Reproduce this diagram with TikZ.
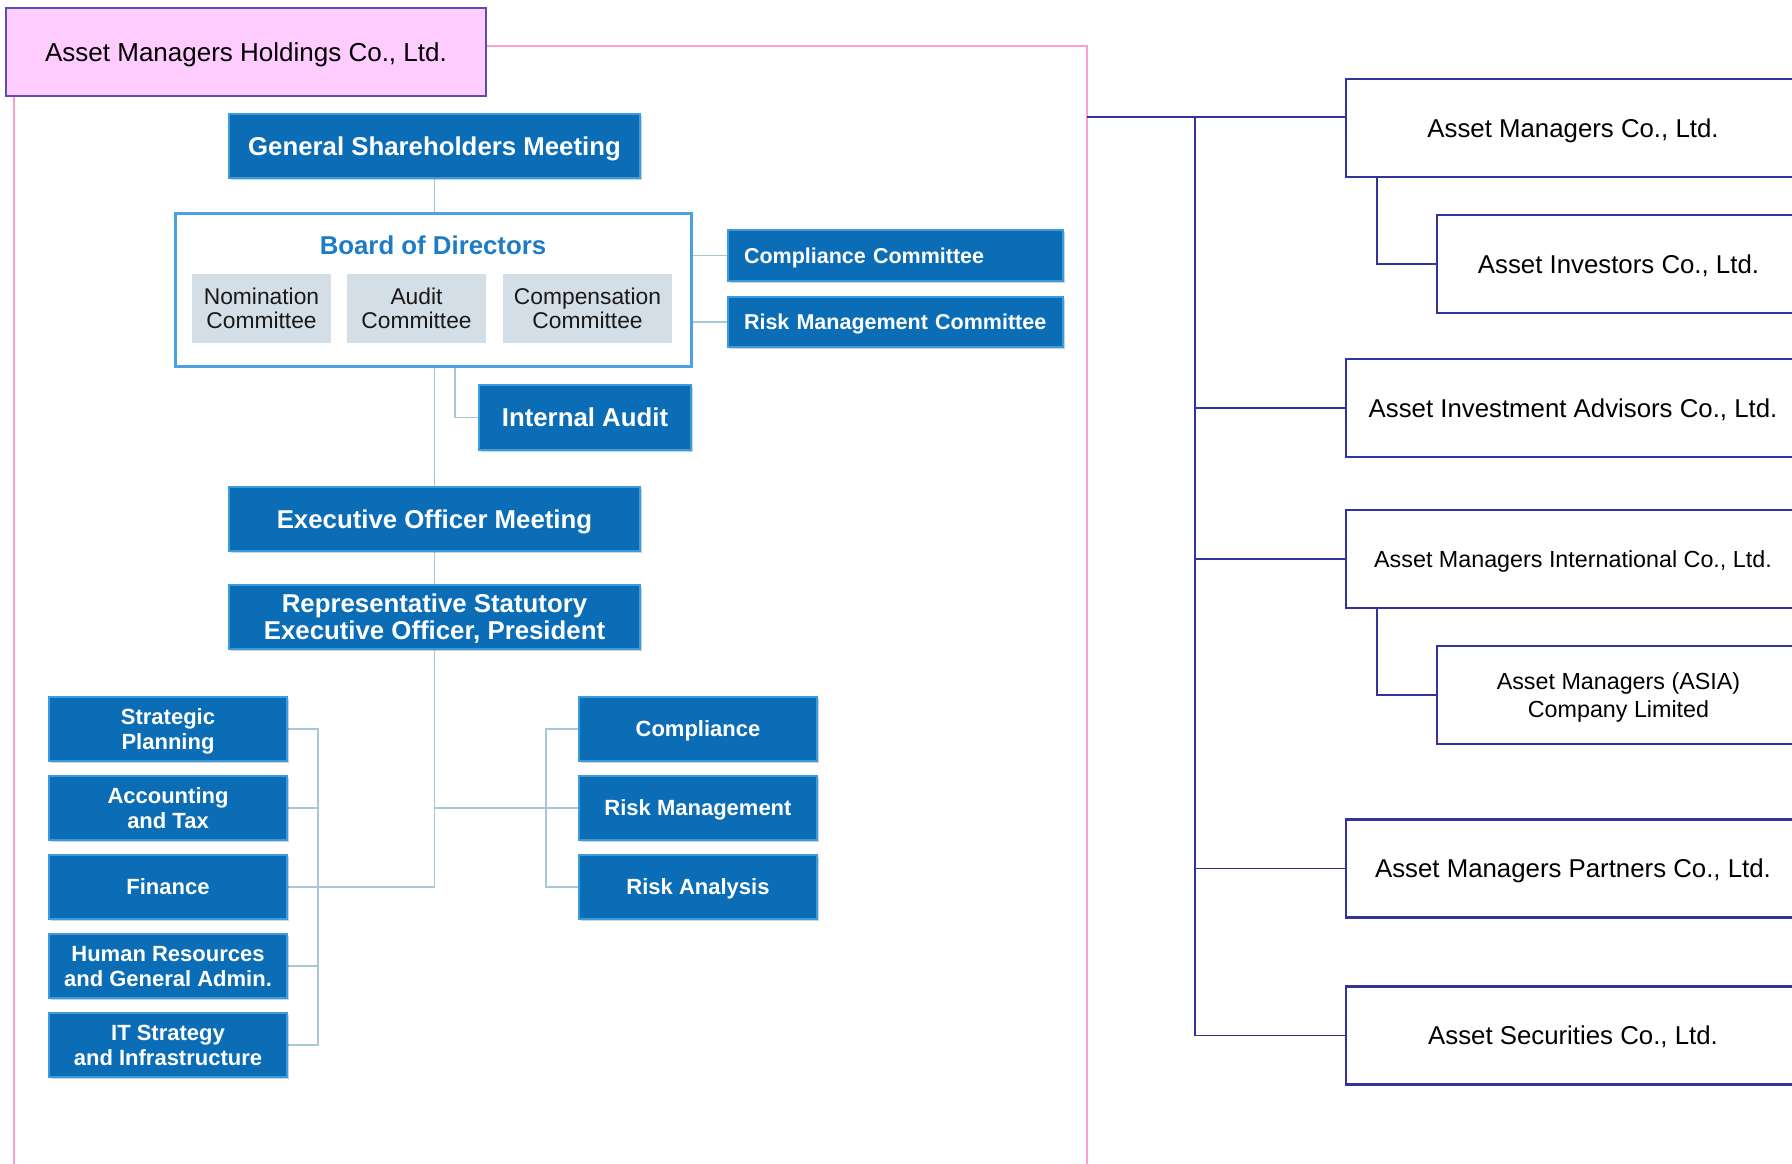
\documentclass[tikz,border=0pt]{standalone}
\usepackage{fontspec}
\setmainfont{Liberation Sans}
\usetikzlibrary{calc,shadows,backgrounds}

\definecolor{deptblue}{HTML}{0B6DB6}
\definecolor{deptedge}{HTML}{3C9BDC}
\definecolor{boardedge}{HTML}{4BA2E2}
\definecolor{boardtitle}{HTML}{1E7CC6}
\definecolor{cmtfill}{HTML}{D3DEE7}
\definecolor{linkgrey}{HTML}{A8C8D6}
\definecolor{subnavy}{HTML}{33339A}
\definecolor{framepink}{HTML}{FF9FD0}
\definecolor{holdpink}{HTML}{FFCCFF}
\definecolor{holdedge}{HTML}{5A4DB5}

\tikzset{
  dept/.style={draw=deptedge, line width=2.4pt, fill=deptblue, text=white,
    font=\bfseries\fontsize{25.8}{27}\selectfont, align=center, inner sep=0pt, text depth=0pt,
    drop shadow={shadow xshift=2pt, shadow yshift=-2pt, fill=black, opacity=.18}},
  unit/.style={dept, font=\bfseries\fontsize{22}{25}\selectfont,
    minimum width=238pt, minimum height=64pt},
  cmt/.style={fill=cmtfill, text=black!90, font=\fontsize{22.8}{24}\selectfont,
    align=center, inner sep=0pt, text depth=0pt, minimum height=69pt},
  link/.style={draw=linkgrey, line width=1.6pt},
  sub/.style={draw=subnavy, line width=2.8pt, fill=white, align=center, inner sep=0pt,
    text depth=0pt, font=\fontsize{25.8}{28}\selectfont, minimum height=98pt},
  subline/.style={draw=subnavy, line width=1.5pt},
  frame/.style={draw=framepink, line width=1.3pt}
}

\begin{document}
\begin{tikzpicture}[x=1pt,y=-1pt]
  \useasboundingbox (0,0) rectangle (1792,1164);

  % holding company
  \node[draw=holdedge, line width=2pt, fill=holdpink, minimum width=480pt, minimum height=88pt,
    text depth=0pt, font=\fontsize{26}{30}\selectfont] (hold) at (246,52) {Asset Managers Holdings Co., Ltd.};
  \coordinate (frameTop) at (1087,46);
  \coordinate (frameR) at (1087,1164);
  \coordinate (frameL) at (14,1164);

  % governance column
  \node[dept, minimum width=411pt, minimum height=64pt] (gsm) at (434.5,146) {General Shareholders Meeting};
  \node[draw=boardedge, line width=3pt, fill=white, minimum width=516pt, minimum height=153pt,
    drop shadow={shadow xshift=2pt, shadow yshift=-2pt, fill=black, opacity=.15}] (board) at (433,289.5) {};
  \node[text=boardtitle, text depth=0pt, font=\bfseries\fontsize{25.8}{28}\selectfont] (boardttl) at (433,245) {Board of Directors};
  \node[cmt, minimum width=139pt] (nom) at (261.5,308.5) {Nomination\\Committee};
  \node[cmt, minimum width=139pt] (aud) at (416.5,308.5) {Audit\\Committee};
  \node[cmt, minimum width=169pt] (cmp) at (587.5,308.5) {Compensation\\Committee};

  \node[dept, font=\bfseries\fontsize{21.5}{24}\selectfont, align=left, inner xsep=16pt,
    text width=303pt, minimum height=51pt] (ccom) at (895.5,255.5) {Compliance Committee};
  \node[dept, font=\bfseries\fontsize{21.5}{24}\selectfont, align=left, inner xsep=16pt,
    text width=303pt, minimum height=50pt] (rmc) at (895.5,322) {Risk Management Committee};

  \node[dept, minimum width=212pt, minimum height=65pt] (ia) at (585,417.5) {Internal Audit};
  \node[dept, minimum width=411pt, minimum height=64pt] (eom) at (434.5,519) {Executive Officer Meeting};
  \node[dept, minimum width=411pt, minimum height=64pt] (rep) at (434.5,617)
    {Representative Statutory\\Executive Officer, President};

  % departments
  \foreach \nm/\yy/\txt in {sp/729/{Strategic\\Planning}, acct/808/{Accounting\\and Tax},
      fin/887/Finance, hr/966/{Human Resources\\and General Admin.}, its/1045/{IT Strategy\\and Infrastructure}}
    \node[unit] (\nm) at (168,\yy) {\txt};
  \foreach \nm/\yy/\txt in {cpl/729/Compliance, rmg/808/Risk Management, rsa/887/Risk Analysis}
    \node[unit] (\nm) at (698,\yy) {\txt};

  \coordinate (lbus) at (318,0);
  \coordinate (rbus) at (546,0);
  \coordinate (iatap) at (455,0);

  \begin{scope}[on background layer]
    \draw[link] (gsm.south) -- (gsm.south |- fin.east) -- (fin.east);
    \draw[link] (gsm.south |- rmg.west) -- (rmg.west);
    \draw[link] (board.east |- ccom.west) -- (ccom.west);
    \draw[link] (board.east |- rmc.west) -- (rmc.west);
    \draw[link] (aud.south -| iatap) |- (ia.west);
    \draw[link] (sp.east) -- (sp.east -| lbus) -- (its.east -| lbus) -- (its.east);
    \foreach \nm in {acct,hr}
      \draw[link] (\nm.east) -- (\nm.east -| lbus);
    \draw[link] (cpl.west) -- (cpl.west -| rbus) -- (rsa.west -| rbus) -- (rsa.west);
  \end{scope}

  % group companies
  \node[sub, minimum width=454pt] (am) at (1573,128) {Asset Managers Co., Ltd.};
  \node[sub, minimum width=363pt] (inv) at (1618.5,264) {Asset Investors Co., Ltd.};
  \node[sub, minimum width=454pt] (aia) at (1573,408) {Asset Investment Advisors Co., Ltd.};
  \node[sub, minimum width=454pt, font=\fontsize{23.3}{28}\selectfont] (ami) at (1573,559)
    {Asset Managers International Co., Ltd.};
  \node[sub, minimum width=363pt, font=\fontsize{23.3}{28.5}\selectfont] (asia) at (1618.5,695)
    {Asset Managers (ASIA)\\Company Limited};
  \node[sub, minimum width=454pt] (amp) at (1573,868.5) {Asset Managers Partners Co., Ltd.};
  \node[sub, minimum width=454pt] (sec) at (1573,1035.5) {Asset Securities Co., Ltd.};

  \coordinate (amtap) at (1087,117);
  \coordinate (nbus) at (1195,0);
  \coordinate (subx) at (1377,0);

  \draw[frame] (hold.east |- frameTop) -- (frameTop) -- (frameR);
  \draw[frame] (hold.south -| frameL) -- (frameL);

  \draw[subline] (amtap) -- (amtap -| am.west);
  \draw[subline] (amtap -| nbus) -- (sec.west -| nbus) -- (sec.west);
  \foreach \nm in {aia,ami,amp}
    \draw[subline] (\nm.west -| nbus) -- (\nm.west);
  \draw[subline] (am.south -| subx) |- (inv.west);
  \draw[subline] (ami.south -| subx) |- (asia.west);
\end{tikzpicture}
\end{document}
